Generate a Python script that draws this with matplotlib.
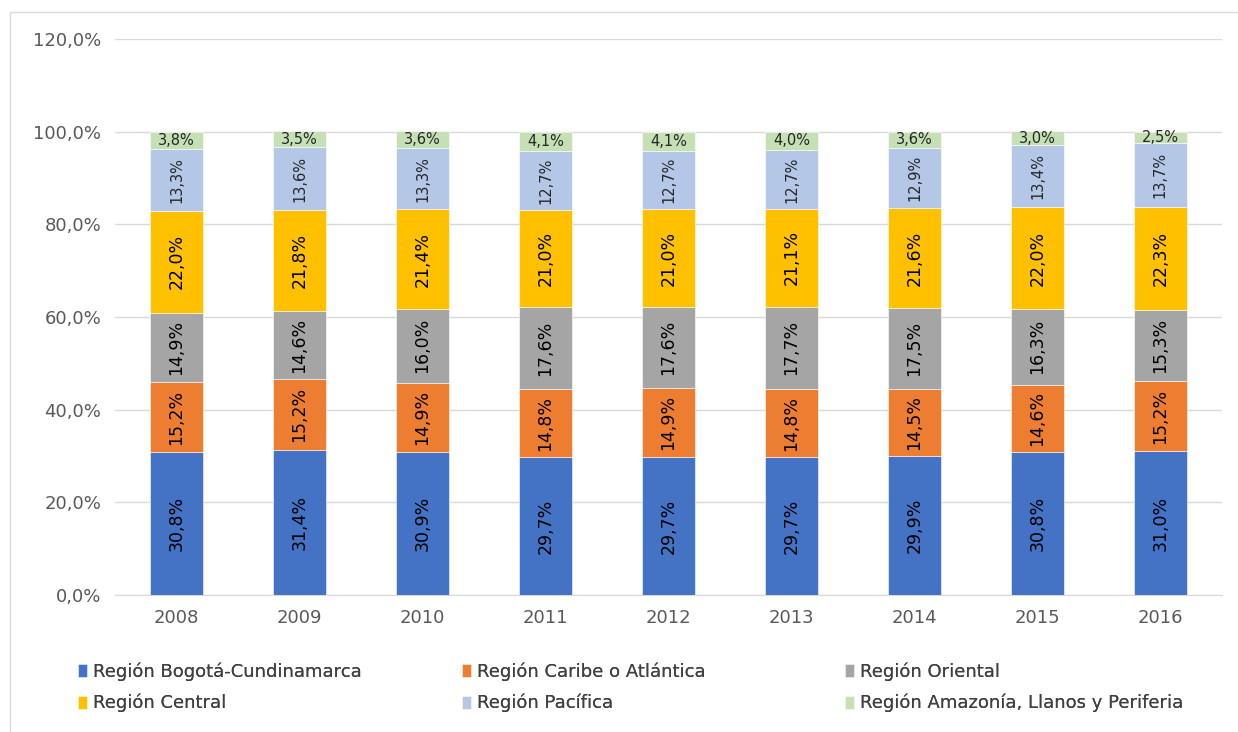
import matplotlib.pyplot as plt
import numpy as np
from matplotlib.patches import Rectangle
from matplotlib.ticker import FuncFormatter

plt.rcParams['font.family'] = ['DejaVu Sans']

years = ['2008', '2009', '2010', '2011', '2012', '2013', '2014', '2015', '2016']
regions = ['Región Bogotá-Cundinamarca', 'Región Caribe o Atlántica', 'Región Oriental',
           'Región Central', 'Región Pacífica', 'Región Amazonía, Llanos y Periferia']
bogota = [30.8, 31.4, 30.9, 29.7, 29.7, 29.7, 29.9, 30.8, 31.0]
caribe = [15.2, 15.2, 14.9, 14.8, 14.9, 14.8, 14.5, 14.6, 15.2]
oriental = [14.9, 14.6, 16.0, 17.6, 17.6, 17.7, 17.5, 16.3, 15.3]
central = [22.0, 21.8, 21.4, 21.0, 21.0, 21.1, 21.6, 22.0, 22.3]
pacifica = [13.3, 13.6, 13.3, 12.7, 12.7, 12.7, 12.9, 13.4, 13.7]
amazonia = [3.8, 3.5, 3.6, 4.1, 4.1, 4.0, 3.6, 3.0, 2.5]

series = [bogota, caribe, oriental, central, pacifica, amazonia]
colors = ['#4472C4', '#ED7D31', '#A5A5A5', '#FFC000', '#B4C7E7', '#C5E0B4']

fig = plt.figure(figsize=(12.38, 7.32), dpi=100)
ax = fig.add_axes([0.093, 0.187, 0.894, 0.760])

x = np.arange(len(years))
bottom = np.zeros(len(years))
handles = []
for i, (vals, col) in enumerate(zip(series, colors)):
    v = np.array(vals) / 100
    b = ax.bar(x, v, 0.43, bottom=bottom, color=col, edgecolor='white', linewidth=0.4, zorder=3)
    handles.append(b)
    for xi, yi, bi in zip(x, v, bottom):
        txt = f'{yi*100:.1f}%'.replace('.', ',')
        if i == 5:
            ax.text(xi, bi + yi / 2, txt, ha='center', va='center', fontsize=10.5, color='#262626', zorder=4)
        elif i == 4:
            ax.text(xi, bi + yi / 2, txt, ha='center', va='center', fontsize=10.5, rotation=90, color='#262626', zorder=4)
        else:
            ax.text(xi, bi + yi / 2, txt, ha='center', va='center', fontsize=12.5, rotation=90, color='black', zorder=4)
    bottom += v

ax.set_xlim(-0.5, len(years) - 0.5)
ax.set_ylim(0, 1.2)
ax.set_yticks(np.arange(0, 1.21, 0.2))
ax.yaxis.set_major_formatter(FuncFormatter(lambda v, p: f'{v*100:.1f}%'.replace('.', ',')))
ax.set_xticks(x)
ax.set_xticklabels(years)
ax.tick_params(axis='both', length=0, labelsize=13, labelcolor='#595959', pad=10)
ax.grid(axis='y', color='#D9D9D9', linewidth=1, zorder=0)
for s in ['top', 'right', 'left']:
    ax.spines[s].set_visible(False)
ax.spines['bottom'].set_color('#D9D9D9')

# legend, one per column
cols_x = [0.063, 0.373, 0.6826]
for c in range(3):
    leg = fig.legend([handles[c], handles[c + 3]], [regions[c], regions[c + 3]],
                     loc='upper left', bbox_to_anchor=(cols_x[c], 0.095), frameon=False,
                     fontsize=13, handlelength=0.5, handleheight=0.75, handletextpad=0.35,
                     labelspacing=0.72, borderaxespad=0, borderpad=0)
    for t in leg.get_texts():
        t.set_color('#404040')
    fig.add_artist(leg)

fig.add_artist(Rectangle((0.008, -0.01), 1.0, 0.994, transform=fig.transFigure,
                         fill=False, edgecolor='#D9D9D9', linewidth=1))

fig.savefig('out.png', dpi=100)
